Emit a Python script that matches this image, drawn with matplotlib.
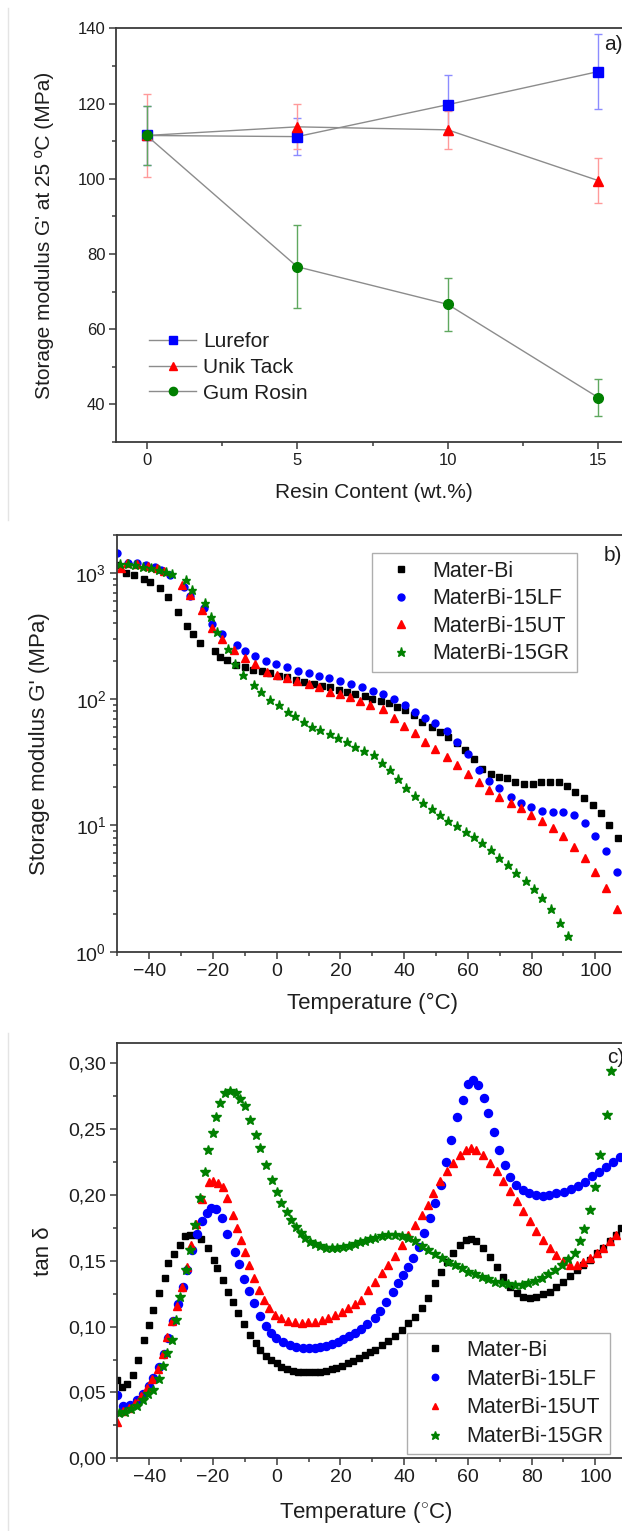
import matplotlib
matplotlib.use('Agg')
import matplotlib.pyplot as plt
from matplotlib.lines import Line2D
from matplotlib.ticker import MultipleLocator, FuncFormatter, LogLocator, NullFormatter

plt.rcParams['font.family'] = ['Liberation Sans', 'DejaVu Sans']
plt.rcParams['mathtext.fontset'] = 'custom'
plt.rcParams['mathtext.rm'] = 'Liberation Sans'
plt.rcParams['mathtext.it'] = 'Liberation Sans:italic'

# ---- panel a: storage modulus at 25 C vs resin content
resin = [0, 5, 10, 15]
lurefor = [111.5, 111.2, 119.7, 128.5]
lurefor_err = [7.8, 4.9, 8.0, 10.0]
unik = [111.5, 113.8, 113.0, 99.5]
unik_err = [11.0, 6.0, 5.0, 6.0]
gum = [111.5, 76.6, 66.6, 41.8]
gum_err = [7.8, 11.0, 7.0, 5.0]

# ---- panel b: G' vs temperature
b_mb_T = [-50.0, -47.4, -44.8, -41.7, -39.8, -36.7, -34.2, -30.9, -28.1, -26.4, -24.0, -19.4, -17.9, -15.7,
          -12.9, -9.9, -7.5, -4.6, -2.0, 0.6, 3.3, 5.9, 8.5, 11.6, 14.2, 16.8, 19.4, 22.1, 24.7, 27.8, 29.8,
          32.6, 35.2, 37.8, 40.4, 43.1, 45.7, 48.8, 51.4, 53.8, 56.6, 59.2, 61.9, 64.5, 67.1, 69.7, 72.3,
          74.9, 77.6, 80.4, 83.1, 85.9, 88.5, 91.1, 93.7, 96.4, 99.2, 101.9, 104.4, 107.1]
b_mb_G = [1150, 991, 960, 893, 841, 754, 640, 487, 379, 327, 281, 242, 215, 203,
          188, 180, 170, 166, 160, 153, 149, 142, 137, 132, 127, 124, 118, 114.5, 111, 106, 101,
          97, 92.6, 87, 82, 75, 66, 60, 55, 50, 44.6, 39.5, 33.4, 27.8, 25.4, 24.0, 23.6,
          22.2, 21.5, 21.5, 21.9, 22.2, 21.9, 20.5, 18.5, 16.6, 14.5, 12.5, 10.1, 7.9]
b_lf_T = [-50.0, -46.6, -43.8, -40.9, -38.3, -36.2, -33.6, -29.2, -27.1, -22.9, -20.3, -17.1, -12.6, -10.1,
          -6.9, -3.5, -0.2, 3.3, 6.6, 10.0, 13.2, 16.5, 20.0, 23.3, 26.7, 30.2, 33.4, 36.8, 40.2, 43.3,
          46.5, 49.8, 53.3, 56.7, 60.1, 63.4, 66.6, 69.9, 73.4, 76.8, 79.9, 83.3, 86.6, 90.0, 93.3, 96.7,
          100.0, 103.4, 106.8]
b_lf_G = [1443, 1211, 1190, 1150, 1110, 1060, 965, 776, 659, 524, 398, 327, 268, 242,
          219, 200, 190, 179, 168, 160, 153, 146, 139, 132, 125, 117, 110, 99.6, 89.8, 79.4,
          70.4, 64.3, 56.2, 45.5, 36.6, 27.5, 22.6, 19.9, 16.9, 15.1, 13.9, 13.1, 12.8, 12.8, 12.1, 10.4,
          8.2, 6.3, 4.3]
b_ut_T = [-49.0, -46.9, -43.8, -40.4, -37.5, -35.5, -29.7, -27.1, -23.4, -20.3, -17.1, -13.5, -9.8, -6.7,
          -3.0, 0.1, 3.3, 6.4, 10.0, 13.2, 16.8, 20.0, 23.1, 26.2, 29.4, 33.4, 36.8, 40.1, 43.3, 46.5,
          49.8, 53.3, 56.7, 60.1, 63.4, 66.6, 69.9, 73.4, 76.8, 79.9, 83.3, 86.6, 90.0, 93.3, 96.7, 100.0,
          103.4, 106.8]
b_ut_G = [1086, 1211, 1189, 1138, 1100, 1039, 800, 667, 508, 370, 299, 245, 213, 189,
          165, 155, 148, 140, 132, 124, 114.5, 110, 104, 97, 90, 83.5, 71.3, 61.6, 53.6, 46,
          40.5, 35, 30.1, 25.5, 21.9, 19.1, 16.9, 15.1, 13.7, 12.2, 10.8, 9.5, 8.2, 6.8, 5.5, 4.3,
          3.18, 2.17]
b_gr_T = [-49.1, -46.8, -44.5, -42.0, -39.5, -37.0, -34.8, -33.0, -28.6, -26.5, -22.5, -20.7, -18.6, -15.3,
          -13.0, -10.6, -7.2, -4.9, -2.0, 0.6, 3.4, 5.8, 8.5, 11.1, 13.7, 16.8, 19.2, 22.1, 24.7, 27.5,
          30.5, 32.9, 35.7, 38.1, 40.6, 43.3, 45.9, 48.6, 51.1, 53.8, 56.7, 59.3, 61.9, 64.5, 67.1, 69.7,
          72.6, 75.2, 78.1, 80.7, 83.3, 86.2, 88.8, 91.5]
b_gr_G = [1183, 1170, 1150, 1120, 1100, 1060, 1020, 990, 877, 740, 580, 449, 342, 248,
          191, 157, 129, 114, 98, 90, 79, 73, 66, 60, 57, 53, 49, 46, 42, 39,
          36.1, 31.0, 27.5, 23.2, 19.7, 17.2, 15.0, 13.4, 12.1, 10.8, 9.9, 8.9, 8.1, 7.2, 6.4, 5.5,
          4.9, 4.2, 3.65, 3.12, 2.64, 2.16, 1.70, 1.33]

# ---- panel c: tan delta vs temperature
c_mb_T = [-50.2, -48.7, -47.1, -45.2, -43.4, -41.6, -40.0, -38.7, -36.9, -35.2,
          -34.0, -32.2, -30.5, -28.8, -27.2, -25.3, -23.9, -21.7, -19.6, -18.6,
          -16.8, -15.4, -13.7, -12.1, -10.2, -8.4, -6.6, -5.1, -3.4, -1.8,
          0.0, 1.5, 3.1, 5.0, 6.8, 8.3, 10.2, 12.0, 13.5, 15.4,
          17.2, 18.7, 20.6, 22.4, 23.9, 25.8, 27.6, 29.2, 30.9, 32.9,
          35.0, 37.1, 39.2, 41.3, 43.4, 45.5, 47.6, 49.7, 51.5, 53.3,
          55.4, 57.5, 59.5, 61.1, 62.7, 64.8, 66.9, 69.0, 71.1, 73.2,
          75.3, 77.4, 79.5, 81.5, 83.6, 85.7, 87.8, 89.9, 92.0, 94.1,
          96.2, 98.3, 100.4, 102.5, 104.5, 106.6, 108.2]
c_mb_tan = [0.0595, 0.0544, 0.0562, 0.0633, 0.0747, 0.0898, 0.1012, 0.1126, 0.1253, 0.1372,
            0.1481, 0.1549, 0.1620, 0.1688, 0.1696, 0.1696, 0.1666, 0.1595, 0.1506, 0.1448,
            0.1354, 0.1266, 0.1190, 0.1101, 0.1017, 0.0937, 0.0873, 0.0822, 0.0780, 0.0747,
            0.0721, 0.0696, 0.0678, 0.0663, 0.0658, 0.0653, 0.0653, 0.0653, 0.0658, 0.0666,
            0.0676, 0.0689, 0.0704, 0.0721, 0.0739, 0.0759, 0.0785, 0.0805, 0.0823, 0.0861,
            0.0891, 0.0932, 0.0975, 0.1025, 0.1076, 0.1139, 0.1215, 0.1329, 0.1418, 0.1489,
            0.1557, 0.1620, 0.1658, 0.1666, 0.1646, 0.1595, 0.1532, 0.1456, 0.1380, 0.1304,
            0.1253, 0.1223, 0.1215, 0.1228, 0.1246, 0.1266, 0.1304, 0.1342, 0.1387, 0.1430,
            0.1468, 0.1506, 0.1557, 0.1595, 0.1646, 0.1696, 0.1747]
c_lf_T = [-50.0, -48.2, -46.1, -44.0, -41.9, -40.2, -38.7, -37.0, -35.5, -34.0,
          -32.5, -31.0, -29.5, -28.0, -26.5, -25.0, -23.5, -22.0, -20.5, -19.1,
          -17.2, -15.6, -13.1, -11.8, -10.4, -8.7, -7.0, -5.4, -3.3, -1.7,
          -0.1, 2.0, 4.1, 6.2, 8.3, 10.2, 12.0, 13.7, 15.6, 17.5,
          19.3, 20.9, 22.7, 24.5, 26.3, 28.4, 30.7, 32.5, 34.4, 36.5,
          38.1, 39.6, 41.2, 42.8, 44.5, 46.2, 48.0, 49.6, 51.7, 53.0,
          54.7, 56.5, 58.6, 59.9, 61.7, 63.3, 65.0, 66.4, 68.2, 69.7,
          71.5, 73.1, 75.2, 77.2, 79.3, 81.4, 83.5, 85.6, 87.7, 90.3,
          92.5, 94.7, 96.9, 99.1, 101.3, 103.5, 105.7, 107.8]
c_lf_tan = [0.048, 0.040, 0.0405, 0.044, 0.049, 0.055, 0.061, 0.069, 0.079, 0.091,
            0.104, 0.117, 0.130, 0.143, 0.158, 0.170, 0.180, 0.186, 0.190, 0.1893,
            0.1823, 0.1701, 0.1565, 0.1473, 0.1362, 0.1271, 0.1177, 0.1081, 0.1007, 0.0954,
            0.0911, 0.0886, 0.0861, 0.0843, 0.0835, 0.0835, 0.0835, 0.0843, 0.0855, 0.0866,
            0.0886, 0.0906, 0.0932, 0.0954, 0.0982, 0.1020, 0.1068, 0.1119, 0.1189, 0.1265,
            0.1329, 0.1392, 0.1455, 0.1519, 0.1607, 0.1709, 0.1823, 0.1937, 0.2076, 0.2250,
            0.2417, 0.2594, 0.2720, 0.2840, 0.2873, 0.2835, 0.2734, 0.2620, 0.2481, 0.2341,
            0.2228, 0.2139, 0.2076, 0.2038, 0.2013, 0.2000, 0.1992, 0.2000, 0.2013, 0.2025,
            0.2045, 0.2070, 0.2100, 0.2140, 0.2170, 0.2210, 0.2250, 0.2290]
c_ut_T = [-50.0, -48.2, -46.3, -44.4, -42.5, -40.7, -39.0, -37.4, -35.8, -34.3,
          -32.8, -31.3, -29.8, -28.3, -26.8, -25.2, -23.6, -21.3, -19.9, -18.4,
          -17.0, -15.6, -13.7, -12.4, -11.1, -10.0, -8.7, -7.2, -5.5, -4.1,
          -2.4, -0.4, 1.5, 3.6, 5.7, 7.8, 9.9, 12.0, 14.1, 16.2,
          18.3, 20.4, 22.4, 24.5, 26.6, 28.8, 30.9, 32.9, 35.0, 37.1,
          39.2, 41.3, 43.4, 45.5, 47.6, 49.1, 51.2, 53.3, 55.4, 57.5,
          59.5, 61.1, 62.7, 64.8, 66.9, 69.0, 71.1, 73.2, 75.3, 77.4,
          79.5, 81.5, 83.6, 85.7, 87.8, 89.9, 92.0, 94.1, 96.2, 98.3,
          100.4, 102.5, 104.5, 106.6]
c_ut_tan = [0.0278, 0.036, 0.0385, 0.042, 0.047, 0.053, 0.060, 0.068, 0.079, 0.092,
            0.104, 0.116, 0.130, 0.145, 0.162, 0.178, 0.1967, 0.2101, 0.2106, 0.2090,
            0.2063, 0.1975, 0.1848, 0.1750, 0.1658, 0.1569, 0.1468, 0.1367, 0.1278, 0.1202,
            0.1139, 0.1088, 0.1063, 0.1043, 0.1033, 0.1030, 0.1033, 0.1038, 0.1050, 0.1068,
            0.1088, 0.1114, 0.1139, 0.1170, 0.1202, 0.1278, 0.1342, 0.1405, 0.1468, 0.1539,
            0.1620, 0.1696, 0.1772, 0.1849, 0.1925, 0.2013, 0.2102, 0.2178, 0.2241, 0.2300,
            0.2343, 0.2355, 0.2343, 0.2300, 0.2241, 0.2178, 0.2102, 0.2026, 0.1950, 0.1879,
            0.1803, 0.1727, 0.1659, 0.1595, 0.1544, 0.1499, 0.1468, 0.1468, 0.1489, 0.1519,
            0.1557, 0.1595, 0.1646, 0.1696]
c_gr_T = [-49.5, -47.7, -45.8, -44.0, -42.0, -40.3, -38.9, -37.1, -35.8, -34.3,
          -32.9, -31.5, -30.2, -28.6, -27.3, -25.8, -24.2, -22.5, -21.5, -20.1,
          -19.1, -17.7, -16.3, -14.7, -12.8, -11.4, -10.0, -8.4, -6.5, -5.1,
          -3.4, -1.4, 0.1, 1.5, 3.1, 4.6, 6.0, 7.5, 8.8, 10.4,
          12.0, 13.5, 15.4, 17.2, 18.9, 20.8, 22.7, 24.5, 26.0, 27.6,
          29.2, 30.9, 32.9, 35.0, 37.1, 39.2, 41.3, 43.4, 45.5, 47.6,
          49.7, 51.8, 53.9, 55.9, 58.0, 60.1, 62.2, 64.3, 66.4, 68.5,
          70.6, 72.7, 74.8, 76.9, 79.0, 81.1, 83.2, 85.2, 87.3, 89.4,
          91.5, 93.6, 95.2, 96.5, 98.3, 99.9, 101.4, 103.7, 105.0]
c_gr_tan = [0.0342, 0.0352, 0.0375, 0.0400, 0.0443, 0.0485, 0.0519, 0.0600, 0.0700, 0.0800,
            0.0899, 0.1050, 0.1228, 0.1430, 0.1583, 0.1772, 0.1980, 0.2177, 0.2341, 0.2468,
            0.2594, 0.2700, 0.2772, 0.2790, 0.2772, 0.2730, 0.2678, 0.2569, 0.2455, 0.2354,
            0.2228, 0.2114, 0.2025, 0.1937, 0.1873, 0.1810, 0.1759, 0.1709, 0.1671, 0.1645,
            0.1625, 0.1613, 0.1600, 0.1595, 0.1595, 0.1603, 0.1613, 0.1625, 0.1640, 0.1653,
            0.1663, 0.1673, 0.1686, 0.1696, 0.1696, 0.1688, 0.1673, 0.1646, 0.1615, 0.1582,
            0.1549, 0.1524, 0.1494, 0.1468, 0.1443, 0.1418, 0.1397, 0.1380, 0.1359, 0.1342,
            0.1329, 0.1321, 0.1316, 0.1316, 0.1329, 0.1347, 0.1372, 0.1397, 0.1430, 0.1468,
            0.1514, 0.1557, 0.1646, 0.1742, 0.1886, 0.2063, 0.2300, 0.2608, 0.2937]

names = ['Mater-Bi', 'MaterBi-15LF', 'MaterBi-15UT', 'MaterBi-15GR']

W, H = 622, 1531
fig = plt.figure(figsize=(W / 100, H / 100), dpi=100)


def add_axes(left, right, top, bottom):
    # pixel box -> figure fraction (right edge runs past the picture, as in the original)
    return fig.add_axes([left / W, 1 - bottom / H, (right - left) / W, (bottom - top) / H])


ax_a = add_axes(116.5, 628.5, 28.3, 442.0)
ax_b = add_axes(117.4, 627.2, 535.0, 951.7)
ax_c = add_axes(117.4, 627.2, 1043.4, 1458.3)

txt = '#1e1e1e'
spine_col = '#3a3a3a'


def style(ax, tick_size):
    for s in ax.spines.values():
        s.set_color(spine_col)
        s.set_linewidth(1.3)
    ax.tick_params(which='both', direction='out', colors=spine_col, labelcolor=txt,
                   labelsize=tick_size, top=False, right=False, width=1.1)
    ax.tick_params(which='major', length=5, pad=3)
    ax.tick_params(which='minor', length=3)


# ---- a)
line_col = '#8c8c8c'
series_a = [(lurefor, lurefor_err, 's', '#0000ff', '#8c8cff', 'Lurefor'),
            (unik, unik_err, '^', '#ff0000', '#ff9a9a', 'Unik Tack'),
            (gum, gum_err, 'o', '#007f00', '#5fa85f', 'Gum Rosin')]
for vals, err, mk, col, ecol, lab in series_a:
    ax_a.errorbar(resin, vals, yerr=err, fmt='none', ecolor=ecol, elinewidth=1.0,
                  capsize=2.8, capthick=1.0)
for vals, err, mk, col, ecol, lab in series_a:
    ax_a.plot(resin, vals, '-', color=line_col, lw=1.0, marker=mk, ms=7 if mk != '^' else 7.5,
              mfc=col, mec=col, label=lab)
ax_a.set_xlim(-1, 16)
ax_a.set_ylim(30, 140)
ax_a.xaxis.set_major_locator(MultipleLocator(5))
ax_a.xaxis.set_minor_locator(MultipleLocator(2.5))
ax_a.yaxis.set_major_locator(MultipleLocator(20))
ax_a.yaxis.set_minor_locator(MultipleLocator(10))
style(ax_a, 12)
ax_a.set_xlabel('Resin Content (wt.%)', fontsize=15, color=txt)
ax_a.set_ylabel("Storage modulus G' at 25 ºC (MPa)", fontsize=15, color=txt)
ax_a.xaxis.set_label_coords(0.502, -0.10)
ax_a.yaxis.set_label_coords(-0.122, 0.50)
ax_a.legend(loc='upper left', bbox_to_anchor=(0.064, 0.266), frameon=False, fontsize=15,
            borderpad=0, borderaxespad=0, handlelength=2.25, handletextpad=0.35,
            labelspacing=0.33, markerscale=0.85, labelcolor=txt)
ax_a.text(0.953, 0.96, 'a)', transform=ax_a.transAxes, fontsize=15, color=txt,
          ha='left', va='center')

# ---- b)
styles_b = [('s', 'black', 4.6), ('o', '#0000ff', 5.0), ('^', '#ff0000', 5.4), ('*', '#008000', 6.6)]
data_b = [(b_mb_T, b_mb_G), (b_lf_T, b_lf_G), (b_ut_T, b_ut_G), (b_gr_T, b_gr_G)]
for (T, G), (mk, col, ms), name in zip(data_b, styles_b, names):
    ax_b.plot(T, G, ls='none', marker=mk, color=col, mec=col, ms=ms, label=name)
ax_b.set_yscale('log')
ax_b.set_xlim(-50, 110)
ax_b.set_ylim(1, 2000)
ax_b.xaxis.set_major_locator(MultipleLocator(20))
ax_b.xaxis.set_minor_locator(MultipleLocator(10))
ax_b.yaxis.set_major_locator(LogLocator(base=10, numticks=10))
ax_b.yaxis.set_minor_locator(LogLocator(base=10, subs=range(2, 10), numticks=20))
ax_b.yaxis.set_minor_formatter(NullFormatter())
style(ax_b, 14)
ax_b.set_xlabel('Temperature (°C)', fontsize=16, color=txt)
ax_b.set_ylabel("Storage modulus G' (MPa)", fontsize=16, color=txt)
ax_b.xaxis.set_label_coords(0.501, -0.10)
ax_b.yaxis.set_label_coords(-0.132, 0.50)
leg_b = ax_b.legend(loc='upper left', bbox_to_anchor=(0.4994, 0.956), fontsize=15.5,
                    frameon=True, fancybox=False, borderpad=0.35, handlelength=2.0,
                    handletextpad=0.45, labelspacing=0.30, borderaxespad=0, numpoints=1,
                    labelcolor=txt)
leg_b.get_frame().set_edgecolor('#9a9a9a')
leg_b.get_frame().set_linewidth(1.0)
ax_b.text(0.954, 0.952, 'b)', transform=ax_b.transAxes, fontsize=15, color=txt,
          ha='left', va='center')

# ---- c)
styles_c = [('s', 'black', 5.0), ('o', '#0000ff', 5.8), ('^', '#ff0000', 6.2), ('*', '#008000', 7.8)]
data_c = [(c_mb_T, c_mb_tan), (c_lf_T, c_lf_tan), (c_ut_T, c_ut_tan), (c_gr_T, c_gr_tan)]
for (T, v), (mk, col, ms), name in zip(data_c, styles_c, names):
    ax_c.plot(T, v, ls='none', marker=mk, color=col, mec=col, ms=ms, label=name)
ax_c.set_xlim(-50, 110)
ax_c.set_ylim(0, 0.315)
ax_c.xaxis.set_major_locator(MultipleLocator(20))
ax_c.xaxis.set_minor_locator(MultipleLocator(10))
ax_c.yaxis.set_major_locator(MultipleLocator(0.05))
ax_c.yaxis.set_minor_locator(MultipleLocator(0.025))
ax_c.yaxis.set_major_formatter(FuncFormatter(lambda v, p: f'{v:.2f}'.replace('.', ',')))
style(ax_c, 14)
ax_c.set_xlabel('Temperature ($^{\\circ}$C)', fontsize=16, color=txt)
ax_c.set_ylabel('tan δ', fontsize=16, color=txt)
ax_c.xaxis.set_label_coords(0.487, -0.10)
ax_c.yaxis.set_label_coords(-0.124, 0.50)
leg_c = ax_c.legend(loc='upper left', bbox_to_anchor=(0.568, 0.301), fontsize=15.5,
                    frameon=True, fancybox=False, borderpad=0.3, handlelength=2.0,
                    handletextpad=0.45, labelspacing=0.36, borderaxespad=0, numpoints=1,
                    markerscale=0.8, labelcolor=txt)
leg_c.get_frame().set_edgecolor('#9a9a9a')
leg_c.get_frame().set_linewidth(1.0)
ax_c.text(0.96, 0.965, 'c)', transform=ax_c.transAxes, fontsize=15, color=txt,
          ha='left', va='center')

# faint page edges left of panels a and c
fig.add_artist(Line2D([8 / W, 8 / W], [1 - 8 / H, 1 - 520 / H], transform=fig.transFigure,
                      color='#e4e4e4', lw=1))
fig.add_artist(Line2D([8 / W, 8 / W], [1 - 1033 / H, 0], transform=fig.transFigure,
                      color='#e4e4e4', lw=1))

fig.savefig('out.png', dpi=100)
